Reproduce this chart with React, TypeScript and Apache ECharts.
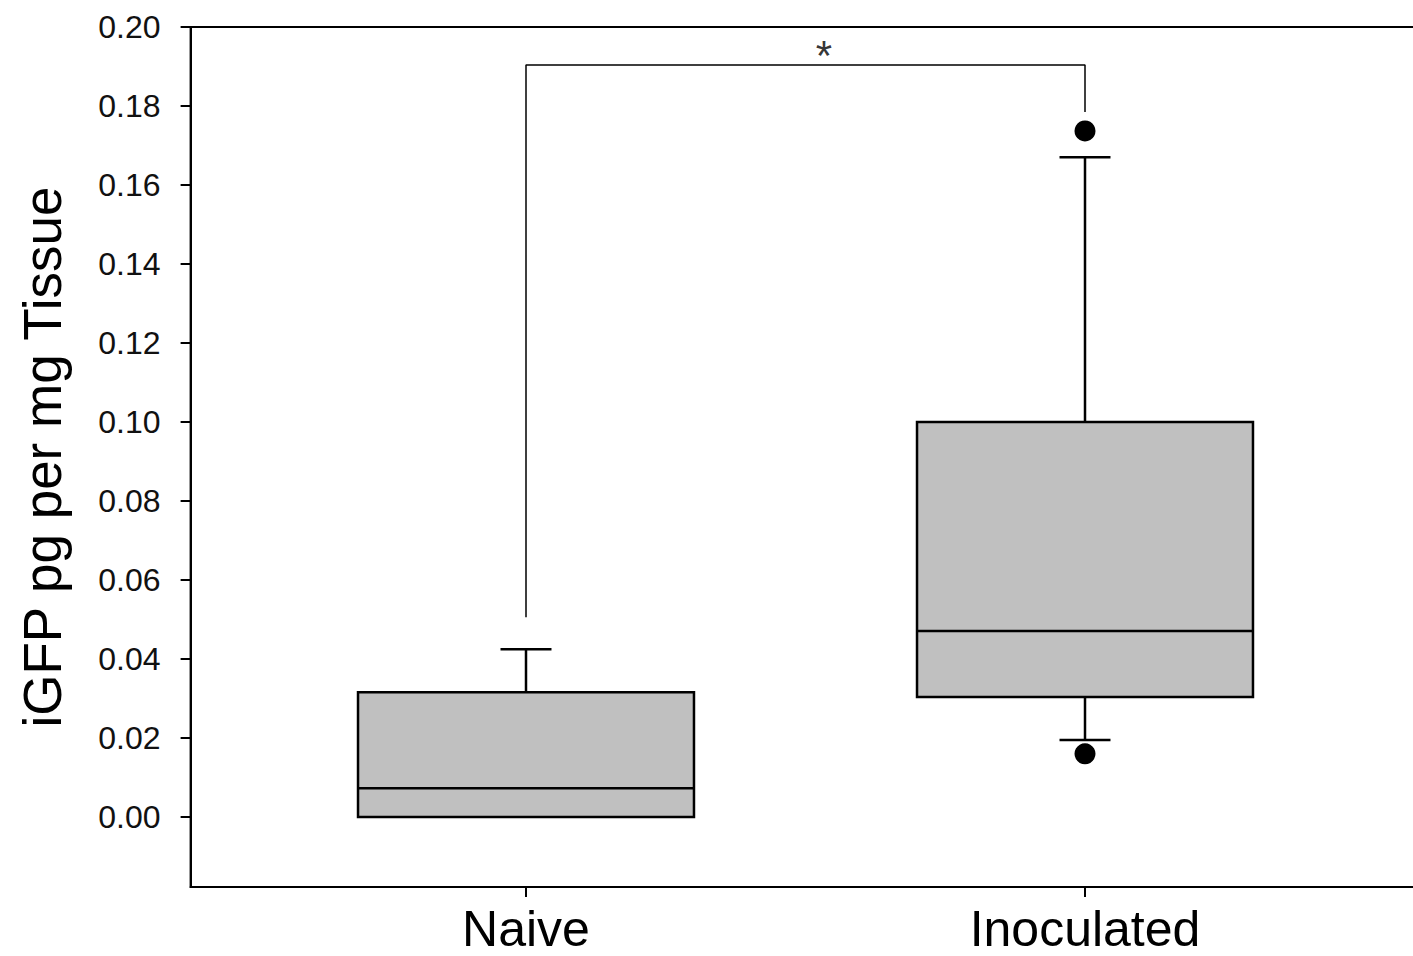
import React, { useEffect, useRef } from "react";
import * as echarts from "echarts";

const categories = ["Naive", "Inoculated"];
const categoryPos = [1, 2];
const boxMin = [0, 0.0195];
const boxQ1 = [0, 0.0304];
const boxMedian = [0.0073, 0.0471];
const boxQ3 = [0.0316, 0.1];
const boxMax = [0.0425, 0.167];
const outlierPos = [2, 2];
const outlierValues = [0.1737, 0.016];
const yTicks = [0, 0.02, 0.04, 0.06, 0.08, 0.1, 0.12, 0.14, 0.16, 0.18, 0.2];
const bracketX = [1, 1, 2, 2];
const bracketY = [0.0506, 0.1904, 0.1904, 0.1785];
const starPos = [1.533, 0.1904];
const starText = "*";
const yTitle = "iGFP pg per mg Tissue";

const BOX_W = 0.601;
const CAP_W = 0.0912;

export default function App() {
  const ref = useRef<HTMLDivElement>(null);
  useEffect(() => {
    if (!ref.current) return;
    const chart = echarts.init(ref.current, null, { renderer: "svg" });
    const boxData = categoryPos.map((x, i) => [x, boxMin[i], boxQ1[i], boxMedian[i], boxQ3[i], boxMax[i]]);
    const font = "Arial, 'Liberation Sans', sans-serif";
    chart.setOption({
      animation: false,
      backgroundColor: "#fff",
      grid: {
        left: 190.6,
        top: 27,
        width: 1229.8,
        height: 860,
        show: true,
        borderColor: "#000",
        borderWidth: 2,
        backgroundColor: "transparent",
      },
      xAxis: {
        type: "value",
        min: 0.4,
        max: 2.6,
        splitLine: { show: false },
        axisLine: { show: true, onZero: false, lineStyle: { color: "#000", width: 2 } },
        axisTick: { show: true, customValues: categoryPos, length: 10, lineStyle: { color: "#000", width: 2 } },
        axisLabel: {
          customValues: categoryPos,
          formatter: (v: number) => categories[categoryPos.indexOf(v)] ?? "",
          fontSize: 50,
          lineHeight: 40,
          fontFamily: font,
          color: "#000",
          margin: 22,
        },
      },
      yAxis: {
        type: "value",
        min: -0.0177,
        max: 0.2,
        splitLine: { show: false },
        axisLine: { show: true, onZero: false, lineStyle: { color: "#000", width: 2 } },
        axisTick: { show: true, customValues: yTicks, length: 10, lineStyle: { color: "#000", width: 2 } },
        axisLabel: {
          customValues: yTicks,
          formatter: (v: number) => v.toFixed(2),
          fontSize: 32,
          fontFamily: font,
          color: "#111",
          margin: 30,
        },
        name: yTitle,
        nameLocation: "middle",
        nameGap: 122,
        nameTextStyle: { fontSize: 53, fontFamily: font, color: "#000" },
      },
      series: [
        {
          type: "custom",
          data: boxData,
          renderItem: (params: any, api: any) => {
            const x = api.value(0);
            const vMin = api.value(1);
            const q1 = api.value(2);
            const med = api.value(3);
            const q3 = api.value(4);
            const vMax = api.value(5);
            const bw = api.size([BOX_W, 0])[0];
            const cw = api.size([CAP_W, 0])[0];
            const pQ1 = api.coord([x, q1]);
            const pQ3 = api.coord([x, q3]);
            const pMed = api.coord([x, med]);
            const pMin = api.coord([x, vMin]);
            const pMax = api.coord([x, vMax]);
            const ls = { stroke: "#000", lineWidth: 2.5 };
            const children: any[] = [];
            if (vMax > q3) {
              children.push({ type: "line", shape: { x1: pQ3[0], y1: pQ3[1], x2: pMax[0], y2: pMax[1] }, style: ls });
              children.push({ type: "line", shape: { x1: pMax[0] - cw / 2, y1: pMax[1], x2: pMax[0] + cw / 2, y2: pMax[1] }, style: ls });
            }
            if (vMin < q1) {
              children.push({ type: "line", shape: { x1: pQ1[0], y1: pQ1[1], x2: pMin[0], y2: pMin[1] }, style: ls });
              children.push({ type: "line", shape: { x1: pMin[0] - cw / 2, y1: pMin[1], x2: pMin[0] + cw / 2, y2: pMin[1] }, style: ls });
            }
            children.push({
              type: "rect",
              shape: { x: pQ3[0] - bw / 2, y: pQ3[1], width: bw, height: pQ1[1] - pQ3[1] },
              style: { fill: "#c0c0c0", stroke: "#000", lineWidth: 2.5 },
            });
            children.push({ type: "line", shape: { x1: pMed[0] - bw / 2, y1: pMed[1], x2: pMed[0] + bw / 2, y2: pMed[1] }, style: ls });
            return { type: "group", children };
          },
          z: 2,
        },
        {
          type: "scatter",
          data: outlierPos.map((x, i) => [x, outlierValues[i]]),
          symbol: "circle",
          symbolSize: 21,
          itemStyle: { color: "#000", opacity: 1 },
          z: 3,
        },
        {
          type: "line",
          data: bracketX.map((x, i) => [x, bracketY[i]]),
          symbol: "none",
          lineStyle: { color: "#000", width: 1.5 },
          z: 3,
        },
        {
          type: "scatter",
          data: [starPos],
          symbolSize: 0,
          label: {
            show: true,
            position: "top",
            distance: 0,
            offset: [0, 12],
            formatter: () => starText,
            fontSize: 42,
            fontFamily: font,
            color: "#000",
          },
          z: 4,
        },
      ],
    });
    return () => chart.dispose();
  }, []);
  return (
    <div style={{ position: "absolute", left: 0, top: 0, width: 1413, height: 956, overflow: "hidden", background: "#fff" }}>
      <div ref={ref} style={{ width: 1430, height: 956 }} />
    </div>
  );
}
